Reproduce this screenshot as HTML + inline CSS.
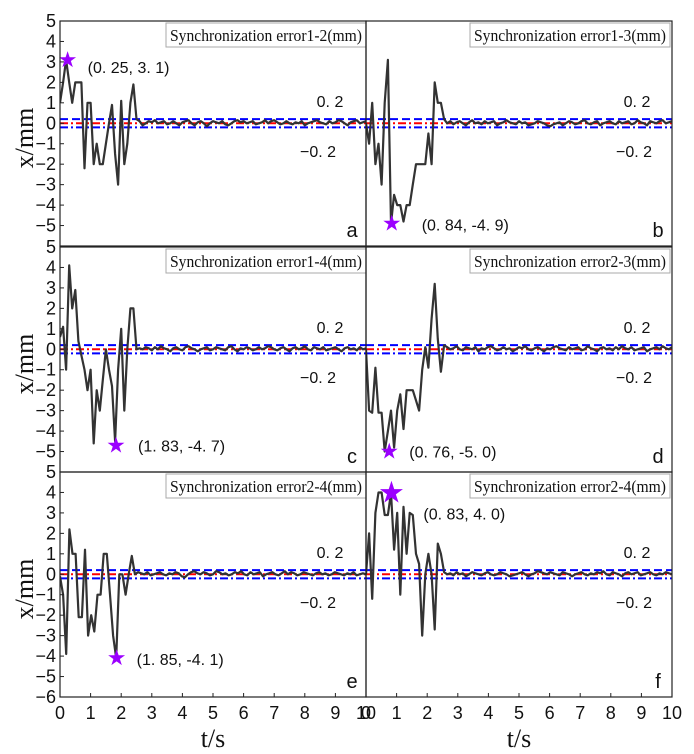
<!DOCTYPE html>
<html><head><meta charset="utf-8"><style>
body{margin:0;background:#fff;}
svg{display:block;}
</style></head><body>
<svg id="chart" width="694" height="754" viewBox="0 0 694 754" xmlns="http://www.w3.org/2000/svg"></svg>
<script>
const panelLabels = ['a','b','c','d','e','f'];
const panelTitles = ['Synchronization error1-2(mm)','Synchronization error1-3(mm)','Synchronization error1-4(mm)','Synchronization error2-3(mm)','Synchronization error2-4(mm)','Synchronization error2-4(mm)'];
const xTicks = [0,1,2,3,4,5,6,7,8,9,10];
const yTicks = [5,4,3,2,1,0,-1,-2,-3,-4,-5];
const thresholds = [0.2,-0.2];
const peakT = [0.25,0.84,1.83,0.76,1.85,0.83];
const peakV = [3.1,-4.9,-4.7,-5.0,-4.1,4.0];
const peakText = ['(0. 25, 3. 1)','(0. 84, -4. 9)','(1. 83, -4. 7)','(0. 76, -5. 0)','(1. 85, -4. 1)','(0. 83, 4. 0)'];
const seriesA = [1.0,2.0,3.1,2.0,1.0,2.0,2.0,2.0,-2.2,1.0,1.0,-2.0,-1.0,-2.0,-2.0,-1.0,0.0,0.9,-1.5,-3.0,1.1,-2.0,-1.0,1.0,1.9,0.2,
0.1,-0.1,0.0,0.1,0.05,0.15,0.0,0.05,0.1,-0.05,0.0,0.1,0.0,-0.1,0.05,0.1,0.15,0.0,-0.1,0.05,0.1,0.0,-0.15,0.0,0.1,0.05,0.0,0.1,-0.05,-0.1,0.0,0.1,0.15,0.05,0.1,0.0,0.05,0.1,-0.05,0.0,0.05,0.15,0.0,0.1,0.15,0.05,-0.05,0.0,0.1,0.0,-0.05,0.05,0.0,0.1,-0.1,0.0,0.05,0.1,0.15,0.05,0.0,-0.05,0.1,0.0,0.05,0.15,0.1,0.0,-0.1,0.05,0.1,0.15,0.0,0.05,0.1];
const seriesB = [0.0,-1.0,1.0,-2.0,-1.0,-3.0,1.0,3.1,-4.9,-3.5,-4.0,-4.0,-4.8,-4.0,-4.0,-3.0,-2.0,-2.0,-2.0,-2.0,-0.5,-2.0,2.0,1.0,1.0,0.2,
0.0,0.1,-0.05,0.05,0.1,0.0,-0.1,0.05,0.15,0.0,0.05,-0.05,0.1,0.0,0.05,0.1,-0.1,0.0,0.05,0.15,0.05,0.0,-0.05,0.1,0.0,0.05,-0.1,-0.05,0.0,0.1,0.05,0.0,-0.1,-0.15,-0.05,0.0,0.05,-0.1,0.0,0.1,0.05,-0.05,0.0,0.1,0.15,0.0,-0.05,0.05,0.1,-0.1,0.0,0.05,0.1,0.0,-0.05,0.1,0.0,0.05,0.1,-0.05,0.0,0.15,0.05,0.0,-0.1,0.1,0.05,0.0,0.1,0.15,0.0,0.05,0.1];
const seriesC = [0.6,1.1,-1.0,4.1,2.0,2.9,0.4,-0.3,-1.0,-2.0,-1.0,-4.6,-2.0,-3.0,-1.5,0.0,-1.0,-1.8,-4.5,-1.0,1.0,-3.0,0.0,2.0,2.0,0.0,
0.05,0.0,0.1,0.05,-0.05,0.1,0.0,0.15,0.05,0.0,-0.1,0.05,0.1,0.0,-0.05,0.1,0.15,0.05,0.0,-0.1,0.0,0.05,0.1,-0.05,0.0,0.1,0.05,0.0,-0.05,0.1,0.15,0.0,-0.1,0.05,0.0,0.1,0.05,-0.05,0.0,0.1,0.0,0.05,0.15,0.1,0.0,-0.05,0.05,0.1,0.0,-0.1,0.05,0.1,0.0,0.05,0.15,0.0,-0.05,0.1,0.05,0.0,0.1,-0.05,0.0,0.05,0.1,0.0,-0.1,0.05,0.1,0.0,0.05,-0.05,0.1,0.0,0.05];
const seriesD = [0.0,-3.0,-3.1,-0.9,-3.1,-3.1,-5.0,-4.0,-3.0,-4.8,-3.0,-2.2,-3.9,-2.0,-2.0,-2.0,-2.5,-3.0,-1.0,0.1,-0.9,1.5,3.2,0.5,-1.1,0.2,
0.1,0.0,0.05,0.15,0.0,-0.05,0.1,0.05,0.0,0.1,-0.1,0.05,0.0,0.1,0.15,0.05,-0.05,0.0,0.1,0.0,0.05,-0.1,0.0,0.1,0.05,0.15,0.0,-0.05,0.05,0.1,0.0,-0.1,0.05,0.0,0.1,0.15,0.05,0.0,-0.05,0.1,0.0,0.05,0.1,-0.05,0.0,0.15,0.05,0.0,-0.1,0.05,0.1,0.0,0.05,-0.05,0.1,0.0,0.15,0.05,0.0,0.1,-0.05,0.0,0.05,0.1,-0.1,0.0,0.05,0.1,0.0,0.15,0.05,0.0,0.1];
const seriesE = [-0.1,-1.0,-3.9,2.2,1.0,1.0,-2.1,-2.1,1.2,-3.0,-2.0,-2.8,-1.0,-1.0,1.0,1.0,-1.0,-3.0,-4.1,0.0,0.0,-1.0,0.0,0.9,0.0,0.1,
0.05,0.0,0.1,-0.05,0.0,0.05,0.1,0.0,-0.05,0.05,0.0,0.1,0.05,-0.1,-0.15,0.0,0.1,0.15,0.05,0.0,0.1,0.05,-0.05,0.0,0.15,0.1,0.0,0.05,-0.05,0.0,0.1,0.05,0.15,0.0,-0.05,0.1,0.0,0.05,0.1,-0.1,0.0,0.05,0.1,0.0,-0.05,0.05,0.15,0.0,0.1,0.05,-0.05,0.0,0.1,0.05,0.0,-0.05,0.05,0.1,0.0,0.05,-0.05,0.0,0.1,0.05,0.0,-0.05,0.05,0.0,0.1,-0.05,0.0,0.05,0.0];
const seriesF = [0.0,2.0,-1.2,3.0,4.0,4.0,2.9,2.9,4.0,1.2,3.0,-1.0,3.3,1.0,3.0,2.9,1.0,0.5,-3.0,0.0,1.0,0.0,-2.7,1.5,1.0,0.1,
0.0,0.05,-0.05,0.1,0.0,0.05,-0.1,0.0,0.1,0.05,0.0,-0.05,0.05,0.1,0.0,-0.05,0.0,0.1,0.05,0.0,-0.1,-0.05,0.0,0.05,0.1,0.0,-0.1,0.0,0.05,0.15,0.1,0.05,0.0,0.1,0.05,0.0,-0.05,0.1,0.05,0.0,-0.1,0.0,0.05,0.1,0.0,-0.05,0.05,0.0,0.1,0.05,0.15,0.0,-0.05,0.1,0.05,0.0,-0.1,0.05,0.1,0.0,0.05,0.1,-0.05,0.0,0.05,0.1,0.0,-0.05,0.05,0.0,0.1,0.05,0.0];
const allSeries = [seriesA,seriesB,seriesC,seriesD,seriesE,seriesF];

const NS='http://www.w3.org/2000/svg';
const svg=document.getElementById('chart');
function mk(tag,attrs,parent,text){const e=document.createElementNS(NS,tag);for(const k in attrs)e.setAttribute(k,attrs[k]);if(text!==undefined)e.textContent=text;(parent||svg).appendChild(e);return e;}
const colX=[60,366], colW=306;
const rowY=[21,247,472], rowH=225;
const SANS='"Liberation Sans", sans-serif', SERIF='"Liberation Serif", serif';

for(let p=0;p<6;p++){
  const c=p%2, r=Math.floor(p/2);
  const x0=colX[c], y0=rowY[r];
  const sx=t=>x0+t/10*colW;
  const sy=v=>y0+(5-v)/11*rowH;
  const g=mk('g',{});
  
  
  const clipId='clip'+p;
  const cp=mk('clipPath',{id:clipId},g);
  mk('rect',{x:x0,y:y0,width:colW,height:rowH},cp);
  const lb=mk('g',{},g);
  
  
  const bw=200, bx=x0+colW-bw-(c===0?0:2);
  mk('rect',{x:bx,y:y0+2,width:bw,height:24,fill:'#fff',stroke:'#aaa','stroke-width':1},lb);
  mk('text',{x:bx+4,y:y0+20,'font-family':SERIF,'font-size':16.5,fill:'#111',textLength:192,lengthAdjust:'spacingAndGlyphs'},lb,panelTitles[p]);
  const dg=mk('g',{'clip-path':'url(#'+clipId+')'},g);
  const l0=mk('line',{x1:x0,x2:x0+colW,y1:sy(0),y2:sy(0),stroke:'#ff0000','stroke-width':2,'stroke-dasharray':'8,3,2,3'},dg);
  
  
  thresholds.forEach((th,i)=>{
    const l=mk('line',{x1:x0,x2:x0+colW,y1:sy(th),y2:sy(th),stroke:'#0000ff','stroke-width':2,'stroke-dasharray':i===0?'8,4':'8,3,2,3'},dg);
    
    
  });
  const s=allSeries[p];
  const pts=s.map((v,i)=>sx(i*10/(s.length-1)).toFixed(1)+','+sy(v).toFixed(1)).join(' ');
  const pl=mk('polyline',{points:pts,fill:'none',stroke:'#333','stroke-width':2.2,'stroke-linejoin':'round'},dg);
  
  
  const tl1=mk('text',{x:x0+colW-(c===0?36:35),y:y0+86,'text-anchor':'middle','font-family':SANS,'font-size':16,fill:'#111'},g,'0. 2');
  
  
  const tl2=mk('text',{x:x0+colW-(c===0?48:38),y:y0+136,'text-anchor':'middle','font-family':SANS,'font-size':16,fill:'#111'},g,'−0. 2');
  
  
  const st=mk('text',{x:sx(peakT[p]),y:sy(peakV[p])+(p===5?10:7),'text-anchor':'middle','font-family':'"DejaVu Sans", sans-serif','font-size':p===5?30:22,fill:'#9b00ff'},g,'★');
  
  
  const dx=[20,30,22,20,20,32][p], dy=[13,7,6,6,7,27][p];
  const pt=mk('text',{x:sx(peakT[p])+dx,y:sy(peakV[p])+dy,'font-family':SANS,'font-size':16,fill:'#111'},g,peakText[p]);
  
  
  const cl=mk('text',{x:x0+colW-14,y:y0+216,'text-anchor':'middle','font-family':SANS,'font-size':20,fill:'#111'},g,panelLabels[p]);
  
  
  mk('rect',{x:x0,y:y0,width:colW,height:rowH,fill:'none',stroke:'#222','stroke-width':1.2},g);
  if(c===0){
    const ticks = r===2 ? yTicks.concat([-6]) : yTicks;
    ticks.forEach(v=>{
      mk('line',{x1:x0,x2:x0+4,y1:sy(v),y2:sy(v),stroke:'#222','stroke-width':1},g);
      const t=mk('text',{x:x0-4,y:sy(v)+6,'text-anchor':'end','font-family':SANS,'font-size':18,fill:'#111'},g,v<0?'−'+(-v):String(v));
      
      
    });
    const yl=mk('text',{x:0,y:0,transform:'translate(33,'+(y0+117)+') rotate(-90)','text-anchor':'middle','font-family':SERIF,'font-size':26,fill:'#111'},g,'x/mm');
    
    
  }
  if(r===2){
    xTicks.forEach(t=>{
      mk('line',{x1:sx(t),x2:sx(t),y1:y0+rowH,y2:y0+rowH-4,stroke:'#222','stroke-width':1},g);
      const tx=mk('text',{x:sx(t),y:y0+rowH+22,'text-anchor':'middle','font-family':SANS,'font-size':18,fill:'#111'},g,String(t));
      
      
    });
    const xl=mk('text',{x:x0+colW/2,y:y0+rowH+50,'text-anchor':'middle','font-family':SERIF,'font-size':26,fill:'#111'},g,'t/s');
    
    
  }
}
</script>
</body></html>
